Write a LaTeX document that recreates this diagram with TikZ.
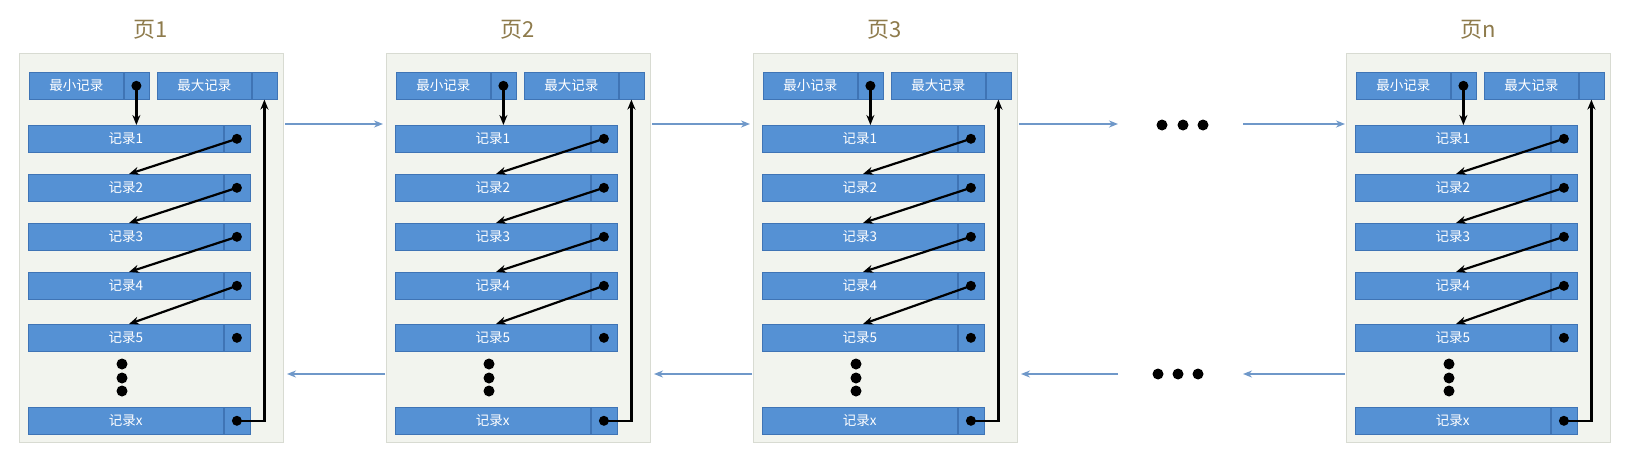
\documentclass[tikz,border=0pt]{standalone}
\usepackage{fontspec}
\setmainfont{Noto Sans CJK SC}
\usetikzlibrary{arrows.meta,calc}
\definecolor{panelfill}{HTML}{F2F4EE}
\definecolor{panelline}{HTML}{D8DBD2}
\definecolor{recblue}{HTML}{5591D4}
\definecolor{recline}{HTML}{3F74B5}
\definecolor{linkblue}{HTML}{6F98C9}
\definecolor{titlecol}{HTML}{8E7B4C}
\tikzset{
  panel/.style={draw=panelline, fill=panelfill, line width=1pt, minimum width=264pt, minimum height=389pt, anchor=north west, inner sep=0pt},
  rectext/.style={draw=recline, fill=recblue, line width=0.6pt, text=white, font=\fontsize{13.5}{13.5}\selectfont, minimum height=27pt, inner sep=0pt, anchor=north west},
  cell/.style={draw=recline, fill=recblue, line width=0.6pt, minimum height=27pt, minimum width=26pt, inner sep=0pt, anchor=west},
  ptr/.style={-{Stealth[length=10pt,width=8pt]}, line width=2.2pt, black},
  blob/.style={circle, fill=black, minimum size=10pt, inner sep=0pt},
  link/.style={-{Stealth[length=9pt,width=7pt]}, line width=1.7pt, linkblue},
  pagetitle/.style={text=titlecol, font=\fontsize{22}{22}\selectfont}
}
\newcommand{\drawpage}[3]{%
  \node[panel] (#1) at (#2,53) {};
  \node[pagetitle] (#1-t) at (#2+132,30) {#3};
  \node[rectext, minimum width=94pt] (#1-min) at (#2+10,72) {最小记录};
  \node[cell, minimum width=25pt] (#1-minc) at (#1-min.east) {};
  \node[blob] (#1-dmin) at (#1-minc.center) {};
  \node[rectext, minimum width=94pt] (#1-max) at (#2+138,72) {最大记录};
  \node[cell, minimum width=25pt] (#1-maxc) at (#1-max.east) {};
  \foreach \k/\yy in {1/125,2/174,3/223,4/272,5/324,x/407}{
    \node[rectext, minimum width=195pt] (#1-r\k) at (#2+9,\yy) {记录\k};
    \node[cell] (#1-c\k) at (#1-r\k.east) {};
    \node[blob] (#1-d\k) at (#1-c\k.center) {};
  }
  \node[blob, minimum size=11pt] (#1-v1) at (#2+103,364) {};
  \node[blob, minimum size=11pt] (#1-v2) at (#2+103,378) {};
  \node[blob, minimum size=11pt] (#1-v3) at (#2+103,391) {};
  \draw[ptr] (#1-dmin.center) -- (#1-dmin |- #1-r1.north);
  \foreach \k/\n in {1/2,2/3,3/4,4/5}{
    \draw[ptr] (#1-d\k.center) -- ($(#1-r\n.north west)+(101,0)$);
  }
  \draw[ptr] (#1-dx.center) -| (#1-maxc.south);
}
\begin{document}
\begin{tikzpicture}[x=1pt,y=-1pt]
\useasboundingbox (0,0) rectangle (1627,458);
\fill[white] (0,0) rectangle (1627,458);
\drawpage{p1}{19}{页1}
\drawpage{p2}{386}{页2}
\drawpage{p3}{753}{页3}
\drawpage{pn}{1346}{页n}
% links between pages
\draw[link] ($(p1.north east)+(1,71)$) -- ($(p2.north west)+(-3,71)$);
\draw[link] ($(p2.north west)+(-1,321)$) -- ($(p1.north east)+(3,321)$);
\draw[link] ($(p2.north east)+(1,71)$) -- ($(p3.north west)+(-3,71)$);
\draw[link] ($(p3.north west)+(-1,321)$) -- ($(p2.north east)+(3,321)$);
\coordinate (ea) at (1118,124);
\coordinate (eb) at (1243,124);
\coordinate (ec) at (1118,374);
\coordinate (ed) at (1243,374);
\draw[link] ($(p3.north east)+(1,71)$) -- (ea);
\draw[link] (eb) -- ($(pn.north west)+(-1,71)$);
\draw[link] (ec) -- ($(p3.north east)+(3,321)$);
\draw[link] ($(pn.north west)+(-1,321)$) -- (ed);
\node[blob, minimum size=11pt] (ht1) at (1162,125) {};
\node[blob, minimum size=11pt] (ht2) at (1183,125) {};
\node[blob, minimum size=11pt] (ht3) at (1203,125) {};
\node[blob, minimum size=11pt] (hb1) at (1158,374) {};
\node[blob, minimum size=11pt] (hb2) at (1178,374) {};
\node[blob, minimum size=11pt] (hb3) at (1198,374) {};
\end{tikzpicture}
\end{document}
